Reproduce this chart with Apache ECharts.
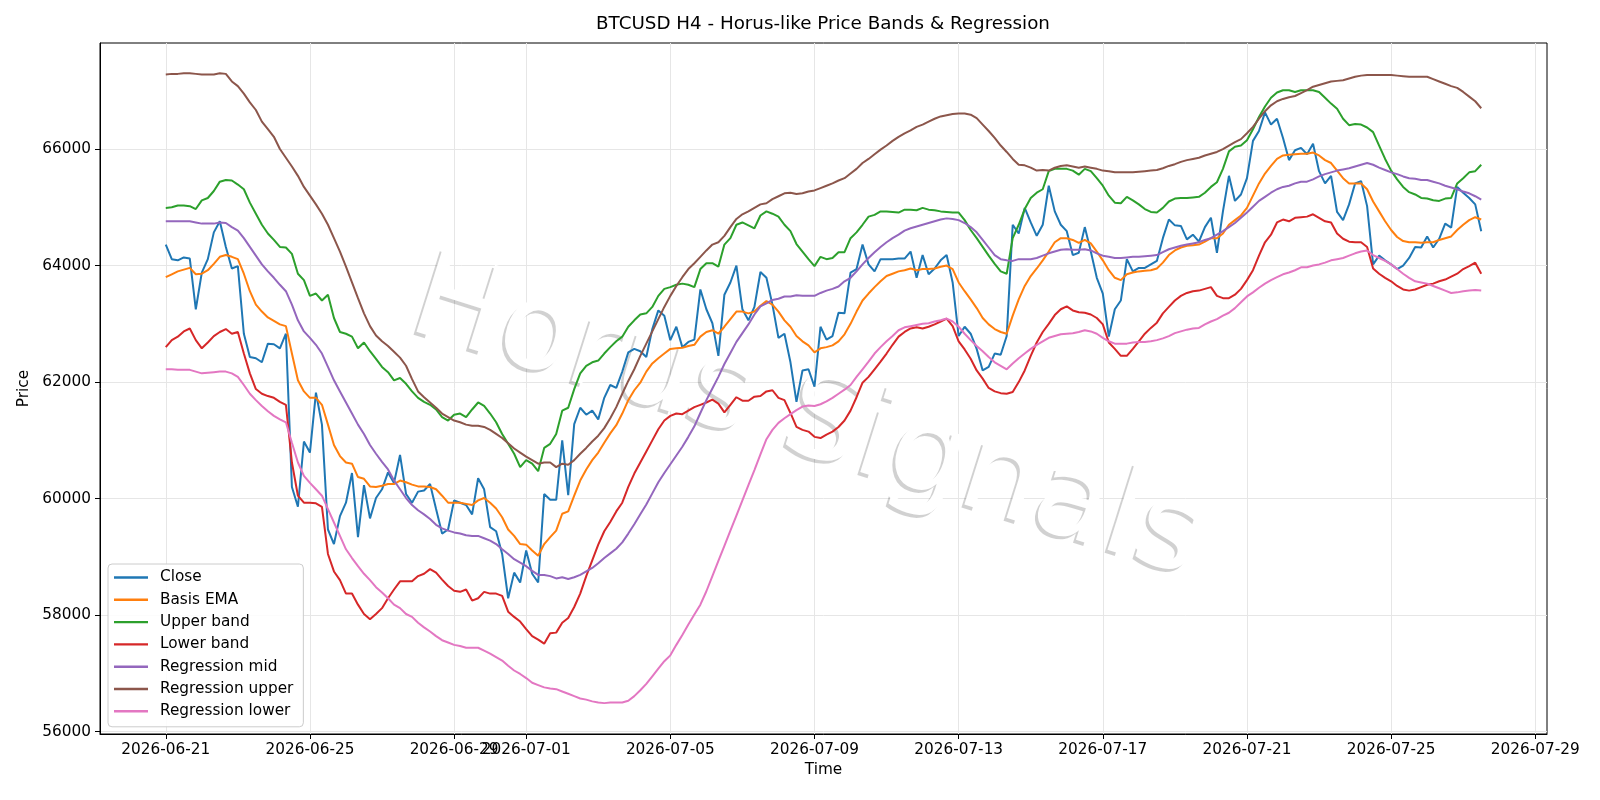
<!DOCTYPE html>
<html>
<head>
<meta charset="utf-8">
<script src="https://cdn.jsdelivr.net/npm/echarts@6/dist/echarts.min.js"></script>
<style>
  html, body { margin: 0; padding: 0; background: #fff; }
  #chart { width: 1600px; height: 800px; }
</style>
</head>
<body>
<div id="chart"></div>
<script>
// H4 bars starting 2026-06-21 00:00
const startTime = Date.UTC(2026, 5, 21)
const barMs = 4 * 3600 * 1000

const tickDates = ['2026-06-21', '2026-06-25', '2026-06-29', '2026-07-01', '2026-07-05', '2026-07-09',
  '2026-07-13', '2026-07-17', '2026-07-21', '2026-07-25', '2026-07-29']
const priceTicks = [56000, 58000, 60000, 62000, 64000, 66000]

const seriesNames = ['Close', 'Basis EMA', 'Upper band', 'Lower band', 'Regression mid', 'Regression upper', 'Regression lower']
const seriesColors = ['#1f77b4', '#ff7f0e', '#2ca02c', '#d62728', '#9467bd', '#8c564b', '#e377c2']

const close = [
  64360, 64110, 64090, 64140, 64120, 63250, 63880, 64110, 64570, 64760,
  64320, 63950, 63990, 62830, 62430, 62410, 62340, 62660, 62650, 62580,
  62830, 60200, 59860, 60980, 60790, 61820, 61270, 59470, 59220, 59700,
  59930, 60440, 59340, 60230, 59660, 60010, 60160, 60450, 60270, 60750,
  60080, 59930, 60120, 60140, 60250, 59820, 59400, 59470, 59970, 59930,
  59890, 59730, 60350, 60160, 59510, 59440, 59050, 58290, 58730, 58560,
  59110, 58710, 58560, 60080, 59980, 59980, 61000, 60060, 61280, 61560,
  61440, 61510, 61360, 61730, 61950, 61900, 62180, 62510, 62570, 62530,
  62430, 62910, 63230, 63140, 62720, 62950, 62600, 62690, 62730, 63590,
  63250, 63010, 62450, 63500, 63710, 64000, 63250, 63060, 63290, 63890,
  63790, 63330, 62760, 62830, 62340, 61660, 62200, 62220, 61920, 62950,
  62730, 62790, 63190, 63180, 63880, 63940, 64360, 64020, 63900, 64110,
  64110, 64110, 64120, 64120, 64240, 63790, 64180, 63850, 63950, 64090,
  64180, 63710, 62790, 62950, 62830, 62570, 62200, 62260, 62490, 62470,
  62790, 64700, 64550, 64990, 64740, 64510, 64700, 65370, 64930, 64700,
  64590, 64180, 64220, 64660, 64240, 63790, 63520, 62780, 63250, 63400,
  64110, 63900, 63960, 63960, 64020, 64080, 64470, 64790, 64690, 64680,
  64450, 64530, 64410, 64660, 64820, 64220, 64930, 65540, 65110, 65220,
  65500, 66140, 66310, 66630, 66420, 66520, 66190, 65810, 65980, 66020,
  65910, 66090, 65620, 65410, 65540, 64920, 64780, 65050, 65410, 65450,
  65020, 64020, 64170, 64090, 64020, 63940, 64000, 64130, 64320, 64310,
  64500, 64310, 64460, 64720, 64650, 65350, 65250, 65160, 65050, 64590
]

const basisEma = [
  63800, 63850, 63900, 63930, 63960, 63850, 63860, 63920, 64030, 64150,
  64180, 64150, 64110, 63860, 63560, 63330, 63210, 63110, 63050, 62990,
  62960, 62490, 62030, 61840, 61730, 61730, 61610, 61270, 60920, 60730,
  60620, 60600, 60370, 60340, 60210, 60200, 60220, 60250, 60250, 60310,
  60280, 60240, 60210, 60210, 60200, 60160, 60050, 59930, 59930, 59930,
  59910, 59890, 59970, 60010, 59930, 59830, 59680, 59470, 59360, 59220,
  59210, 59110, 59020, 59220, 59340, 59450, 59740, 59780, 60050, 60310,
  60500, 60660, 60790, 60960, 61120, 61260, 61460, 61690, 61860, 61990,
  62180, 62320, 62410, 62490, 62570, 62580, 62590, 62620, 62640, 62780,
  62860, 62890, 62830, 62950, 63080, 63210, 63210, 63180, 63210, 63310,
  63390, 63330, 63210, 63060, 62950, 62790, 62700, 62630, 62510, 62580,
  62600, 62630, 62700, 62820, 63000, 63210, 63400, 63520, 63630, 63730,
  63820, 63860, 63900, 63920, 63950, 63920, 63940, 63940, 63950, 63980,
  64000, 63940, 63710, 63560, 63420, 63270, 63100, 62990, 62910, 62860,
  62830, 63140, 63420, 63650, 63820, 63950, 64090, 64240, 64400, 64470,
  64470, 64440, 64390, 64440, 64380, 64240, 64090, 63920, 63790, 63750,
  63850, 63880, 63900, 63910, 63920, 63950, 64050, 64180, 64260, 64310,
  64340, 64350, 64360, 64410, 64470, 64470, 64550, 64700, 64780, 64860,
  64990, 65200, 65410, 65580, 65710, 65830, 65890, 65900, 65910, 65920,
  65920, 65940, 65890, 65810, 65760, 65630, 65500, 65410, 65410, 65410,
  65310, 65100, 64930, 64760, 64610, 64490, 64420, 64400, 64400, 64390,
  64400, 64400, 64440, 64470, 64500, 64610, 64700, 64780, 64830, 64790
]

const upperBand = [
  64990, 65000, 65030, 65030, 65020, 64970, 65120, 65160, 65280, 65440,
  65470, 65460, 65390, 65310, 65080, 64890, 64700, 64550, 64440, 64320,
  64310, 64200, 63860, 63750, 63480, 63520, 63400, 63500, 63100, 62860,
  62830, 62780, 62580, 62680, 62530, 62400, 62260, 62170, 62030, 62070,
  61970, 61840, 61730, 61660, 61610, 61530, 61400, 61340, 61440, 61460,
  61400, 61530, 61650, 61590, 61460, 61310, 61110, 60940, 60770, 60540,
  60660, 60600, 60470, 60870, 60940, 61110, 61510, 61560, 61880, 62150,
  62280, 62340, 62370, 62490, 62600, 62700, 62780, 62950, 63060, 63160,
  63180, 63290, 63480, 63600, 63630, 63670, 63690, 63670, 63630, 63940,
  64040, 64040, 63980, 64360, 64470, 64700, 64740, 64690, 64640, 64860,
  64930, 64890, 64840, 64700, 64590, 64370, 64240, 64110, 63990, 64150,
  64110, 64130, 64230, 64230, 64470, 64570, 64700, 64840, 64870, 64930,
  64930, 64920, 64910, 64960, 64960, 64950, 64990, 64960, 64950, 64930,
  64920, 64910, 64910, 64780, 64610, 64470, 64320, 64170, 64030, 63900,
  63860, 64470, 64700, 64970, 65160, 65250, 65310, 65620, 65660, 65660,
  65660, 65630, 65560, 65660, 65620, 65500, 65370, 65200, 65080, 65070,
  65180, 65120, 65050, 64970, 64920, 64910, 64990, 65100, 65150, 65160,
  65160, 65170, 65180, 65250, 65350, 65430, 65660, 65960, 66040, 66060,
  66150, 66340, 66550, 66730, 66880, 66970, 67010, 67010, 66980, 67010,
  67010, 67010, 66980, 66880, 66780, 66690, 66520, 66410, 66430, 66420,
  66370, 66290, 66060, 65830, 65630, 65480, 65350, 65260, 65220, 65160,
  65150, 65120, 65110, 65150, 65160, 65410, 65500, 65600, 65620, 65730
]

const lowerBand = [
  62600, 62720, 62780, 62870, 62920, 62720, 62580, 62680, 62790, 62860,
  62910, 62830, 62860, 62490, 62150, 61880, 61800, 61760, 61730, 61660,
  61610, 60620, 60050, 59930, 59930, 59920, 59860, 59050, 58750, 58600,
  58370, 58370, 58180, 58020, 57930, 58020, 58120, 58290, 58440, 58580,
  58580, 58580, 58670, 58710, 58790, 58730, 58610, 58500, 58420, 58400,
  58440, 58250, 58290, 58400, 58370, 58370, 58330, 58060, 57970, 57890,
  57760, 57640, 57580, 57510, 57690, 57700, 57870, 57950, 58140, 58370,
  58670, 58940, 59210, 59440, 59600, 59780, 59930, 60200, 60430, 60620,
  60810, 61000, 61190, 61340, 61420, 61460, 61450, 61510, 61570, 61610,
  61650, 61700, 61630, 61480, 61610, 61740, 61680, 61680, 61750, 61760,
  61840, 61860, 61730, 61690, 61470, 61230, 61180, 61150, 61060, 61040,
  61100, 61150, 61230, 61340, 61510, 61740, 61990, 62090, 62220, 62350,
  62490, 62640, 62780, 62860, 62920, 62940, 62920, 62950, 62990, 63040,
  63090, 62960, 62700, 62560, 62400, 62200, 62060, 61900, 61840, 61810,
  61800, 61830, 62000, 62200, 62450, 62680, 62860, 63000, 63150, 63250,
  63300, 63230, 63200, 63190, 63160, 63100, 62990, 62680, 62570, 62450,
  62450, 62570, 62700, 62830, 62930, 63020, 63180, 63290, 63400, 63480,
  63530, 63560, 63570, 63600, 63630, 63480, 63440, 63440, 63500, 63600,
  63750, 63920, 64170, 64400, 64530, 64740, 64790, 64760, 64820, 64830,
  64840, 64880, 64820, 64760, 64740, 64550, 64460, 64410, 64400, 64400,
  64320, 63950, 63860, 63790, 63730, 63650, 63590, 63570, 63590, 63630,
  63670, 63690, 63730, 63760, 63810, 63860, 63940, 63990, 64050, 63860
]

const regMid = [
  64760, 64760, 64760, 64760, 64760, 64740, 64720, 64720, 64720, 64740,
  64730, 64660, 64600, 64470, 64320, 64170, 64020, 63900, 63790, 63670,
  63560, 63330, 63060, 62870, 62760, 62640, 62490, 62260, 62030, 61840,
  61650, 61460, 61270, 61110, 60920, 60770, 60630, 60500, 60310, 60160,
  60010, 59890, 59800, 59730, 59650, 59550, 59490, 59450, 59420, 59400,
  59370, 59360, 59360, 59320, 59280, 59220, 59130, 59050, 58960, 58900,
  58840, 58760, 58690, 58690, 58670, 58630, 58650, 58620, 58650, 58690,
  58750, 58810, 58890, 58980, 59060, 59140, 59250, 59400, 59560, 59730,
  59900, 60090, 60280, 60440, 60590, 60740, 60890, 61060, 61240, 61470,
  61690, 61890, 62090, 62310, 62500, 62690, 62840, 62990, 63160, 63300,
  63350, 63410, 63430, 63470, 63470, 63490, 63480, 63480, 63480, 63530,
  63570, 63600, 63640, 63730, 63790, 63900, 64020, 64130, 64230, 64320,
  64400, 64470, 64530, 64600, 64640, 64670, 64700, 64730, 64760, 64790,
  64810, 64800, 64780, 64730, 64660, 64570, 64440, 64310, 64180, 64110,
  64090, 64080, 64110, 64110, 64110, 64130, 64170, 64210, 64240, 64270,
  64280, 64270, 64270, 64280, 64260, 64210, 64170, 64150, 64130, 64130,
  64140, 64150, 64150, 64160, 64170, 64180, 64230, 64280, 64310, 64340,
  64360, 64380, 64400, 64440, 64470, 64530, 64590, 64660, 64730, 64820,
  64910, 65010, 65110, 65180, 65250, 65310, 65350, 65370, 65410, 65440,
  65440, 65480, 65530, 65570, 65600, 65630, 65650, 65670, 65700, 65730,
  65760, 65730, 65680, 65640, 65600, 65570, 65530, 65500, 65490, 65470,
  65470, 65440, 65410, 65370, 65340, 65310, 65270, 65240, 65190, 65130
]

const regUpper = [
  67280, 67290, 67290, 67300, 67300, 67290, 67280, 67280, 67280, 67300,
  67290, 67160, 67080, 66950, 66800, 66670, 66470, 66340, 66210, 66000,
  65850, 65700, 65540, 65350, 65200, 65050, 64890, 64700, 64470, 64240,
  63980, 63710, 63440, 63180, 62960, 62800, 62700, 62620, 62520, 62420,
  62280, 62050, 61840, 61740, 61650, 61560, 61460, 61400, 61340, 61310,
  61270, 61250, 61250, 61230, 61180, 61110, 61040, 60950, 60860, 60790,
  60720, 60660, 60600, 60620, 60620, 60540, 60600, 60580, 60660, 60770,
  60870, 60980, 61080, 61210, 61380, 61570, 61800, 62020, 62220, 62450,
  62660, 62870, 63080, 63290, 63480, 63650, 63800, 63940, 64040, 64150,
  64260, 64360, 64400, 64510, 64660, 64800, 64880, 64930, 64990, 65050,
  65070, 65140, 65190, 65240, 65250, 65230, 65240, 65270, 65290, 65330,
  65370, 65410, 65460, 65500, 65580, 65660, 65760, 65830, 65910, 65990,
  66060, 66140, 66210, 66270, 66320, 66380, 66420, 66470, 66520, 66560,
  66580, 66600, 66610, 66610, 66590, 66530, 66420, 66310, 66190, 66060,
  65950, 65830, 65730, 65720, 65680, 65630, 65640, 65630, 65680, 65710,
  65720, 65700, 65680, 65700, 65680, 65660, 65630, 65620, 65600, 65600,
  65600, 65600, 65610, 65620, 65630, 65640, 65670, 65710, 65740, 65780,
  65810, 65830, 65850, 65890, 65920, 65950, 66000, 66060, 66120, 66170,
  66270, 66380, 66520, 66650, 66750, 66820, 66860, 66890, 66910, 66960,
  67010, 67070, 67100, 67130, 67160, 67170, 67180, 67210, 67240, 67260,
  67270, 67270, 67270, 67270, 67270, 67260, 67250, 67240, 67240, 67240,
  67240, 67200, 67160, 67120, 67080, 67050, 66980, 66900, 66820, 66700
]

const regLower = [
  62220, 62220, 62210, 62210, 62210, 62180, 62150, 62160, 62170, 62180,
  62180, 62150, 62090, 61950, 61800, 61690, 61590, 61500, 61420, 61360,
  61310, 60960, 60620, 60390, 60270, 60160, 60050, 59820, 59590, 59360,
  59130, 58980, 58840, 58710, 58600, 58480, 58390, 58290, 58180, 58120,
  58020, 57970, 57870, 57790, 57720, 57640, 57570, 57530, 57490, 57470,
  57440, 57440, 57440, 57390, 57340, 57280, 57220, 57130, 57050, 56990,
  56920, 56840, 56800, 56760, 56740, 56730, 56690, 56650, 56610, 56570,
  56550, 56520, 56500, 56490, 56500, 56500, 56500, 56530, 56610, 56710,
  56820, 56950, 57080, 57210, 57310, 57490, 57660, 57840, 58010, 58180,
  58410, 58670, 58930, 59190, 59450, 59710, 59970, 60230, 60490, 60760,
  61020, 61180, 61300, 61380, 61450, 61520, 61580, 61600, 61590, 61620,
  61670, 61730, 61800, 61870, 61950, 62090, 62220, 62350, 62490, 62600,
  62700, 62790, 62890, 62940, 62960, 62980, 63000, 63010, 63040, 63060,
  63090, 63040, 62950, 62830, 62720, 62620, 62530, 62430, 62340, 62280,
  62220, 62320, 62410, 62490, 62570, 62640, 62700, 62760, 62790, 62820,
  62830, 62840, 62860, 62890, 62870, 62830, 62760, 62700, 62660, 62660,
  62660, 62680, 62690, 62690, 62700, 62720, 62750, 62790, 62840, 62870,
  62900, 62920, 62930, 62990, 63040, 63080, 63140, 63190, 63270, 63370,
  63470, 63540, 63620, 63690, 63750, 63800, 63850, 63880, 63920, 63970,
  63970, 64000, 64020, 64050, 64090, 64110, 64130, 64170, 64210, 64240,
  64260, 64180, 64130, 64080, 64020, 63940, 63860, 63790, 63730, 63710,
  63690, 63650, 63610, 63570, 63530, 63540, 63560, 63570, 63580, 63570
]

const seriesValues = [close, basisEma, upperBand, lowerBand, regMid, regUpper, regLower]

const times = close.map((_, i) => startTime + i * barMs)
const xPad = (times[times.length - 1] - times[0]) * 0.05
const tickTimes = tickDates.map(d => Date.parse(d + 'T00:00:00Z'))
const fmtDate = v => new Date(v).toISOString().slice(0, 10)

const font = 'DejaVu Sans'
const chart = echarts.init(document.getElementById('chart'))

// watermark: grey copy slightly offset, white copy on top
const markText = 'Horus Signals'
const markAngle = -17.5 * Math.PI / 180
const markLayer = (dx, dy, fill, z) => ({
  type: 'text',
  x: 806 + dx,
  y: 422 + dy,
  rotation: markAngle,
  z,
  silent: true,
  style: {
    text: markText,
    x: 0,
    y: 0,
    align: 'center',
    verticalAlign: 'middle',
    textAlign: 'center',
    textVerticalAlign: 'middle',
    font: '120px "DejaVu Sans"',
    fill
  }
})

const option = {
  animation: false,
  backgroundColor: '#fff',
  textStyle: { fontFamily: font },
  title: {
    text: 'BTCUSD H4 - Horus-like Price Bands & Regression',
    left: 823,
    textAlign: 'center',
    top: 15,
    padding: 0,
    textStyle: { fontSize: 18.3, fontWeight: 'normal', color: '#000', fontFamily: font }
  },
  grid: {
    left: 100,
    right: 53,
    top: 43,
    bottom: 66,
    show: true,
    borderColor: '#000',
    borderWidth: 1,
    backgroundColor: 'transparent'
  },
  legend: {
    orient: 'vertical',
    left: 108,
    top: 564,
    icon: 'rect',
    itemWidth: 34,
    itemHeight: 2.4,
    itemGap: 7.3,
    padding: [6, 10, 8, 6],
    backgroundColor: 'rgba(255,255,255,0.85)',
    borderColor: '#cccccc',
    borderWidth: 1,
    borderRadius: 4,
    z: 10,
    data: seriesNames,
    textStyle: { fontSize: 15.3, color: '#000', fontFamily: font, padding: [0, 0, 0, 7] }
  },
  xAxis: {
    type: 'value',
    min: times[0] - xPad,
    max: times[times.length - 1] + xPad,
    name: 'Time',
    nameLocation: 'middle',
    nameGap: 29,
    nameTextStyle: { fontSize: 15.3, color: '#000', fontFamily: font },
    axisLine: { show: true, lineStyle: { color: '#000', width: 1 } },
    axisTick: { show: true, length: 5, lineStyle: { color: '#000' }, customValues: tickTimes },
    axisLabel: {
      customValues: tickTimes,
      formatter: fmtDate,
      fontSize: 15.3,
      color: '#000',
      fontFamily: font,
      margin: 9
    },
    splitLine: { show: true, lineStyle: { color: '#e6e6e6', width: 1 } }
  },
  yAxis: {
    type: 'value',
    min: 55960,
    max: 67820,
    name: 'Price',
    nameLocation: 'middle',
    nameGap: 66,
    nameTextStyle: { fontSize: 15.3, color: '#000', fontFamily: font },
    axisLine: { show: true, lineStyle: { color: '#000', width: 1 } },
    axisTick: { show: true, length: 5, lineStyle: { color: '#000' }, customValues: priceTicks },
    axisLabel: {
      customValues: priceTicks,
      formatter: v => String(v),
      fontSize: 15.3,
      color: '#000',
      fontFamily: font,
      margin: 9
    },
    splitLine: { show: true, lineStyle: { color: '#e6e6e6', width: 1 } }
  },
  graphic: [
    markLayer(-3, 3, 'rgba(0,0,0,0.18)', 1),
    markLayer(0, 0, '#ffffff', 1.5)
  ],
  series: seriesNames.map((name, k) => ({
    name,
    type: 'line',
    color: seriesColors[k],
    showSymbol: false,
    symbol: 'none',
    lineStyle: { width: 2, color: seriesColors[k] },
    z: 2 + k * 0.01,
    data: seriesValues[k].map((v, i) => [times[i], v])
  }))
}

chart.setOption(option)
</script>
</body>
</html>
